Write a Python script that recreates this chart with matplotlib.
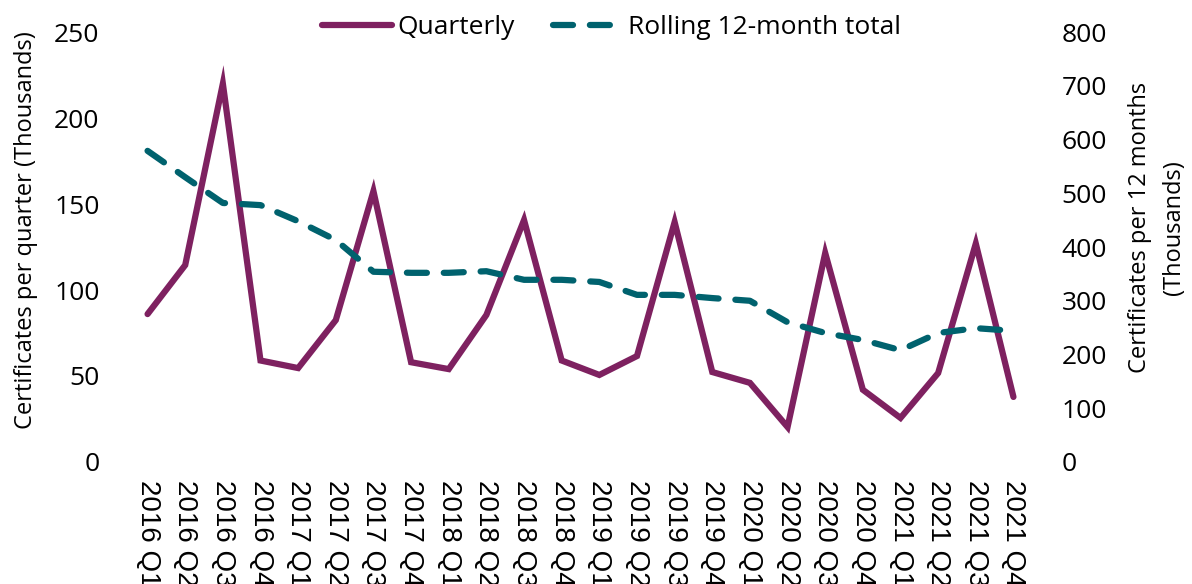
import matplotlib.pyplot as plt
import numpy as np

plt.rcParams['font.family'] = ['Open Sans', 'DejaVu Sans']

quarters = [f'{y} Q{q}' for y in range(2016, 2022) for q in range(1, 5)]
quarterly = [86, 114.5, 220, 59, 54.6, 82.5, 157.5, 58, 54, 85.5, 140.7, 59,
             50.6, 61.6, 139.5, 52.3, 46, 20.3, 121.5, 42, 25.6, 51.7, 127, 37.8]
rolling = [579, 530, 482, 478, 448, 413, 354, 352, 352, 355, 339, 339,
           335, 311, 311, 305, 300, 260, 240, 227, 208, 240, 249, 244]

purple = '#7E2160'
teal = '#00626E'

fig = plt.figure(figsize=(11.92, 5.84), dpi=100)
ax1 = fig.add_axes([0.108, 0.209, 0.758, 0.736])
ax2 = ax1.twinx()

x = np.arange(len(quarters))
l1, = ax1.plot(x, quarterly, color=purple, lw=4.5, solid_capstyle='round',
               solid_joinstyle='miter', label='Quarterly')
l2, = ax2.plot(x, rolling, color=teal, lw=4.5, dashes=(3.2, 2.7),
               dash_capstyle='round', label='Rolling 12-month total')

ax1.set_xlim(-0.5, len(quarters) - 0.5)
ax1.set_ylim(0, 250)
ax2.set_ylim(0, 800)
ax1.set_yticks(range(0, 251, 50))
ax2.set_yticks(range(0, 801, 100))
ax1.set_xticks(x)

for ax in (ax1, ax2):
    for s in ax.spines.values():
        s.set_visible(False)
    ax.tick_params(length=0, labelsize=19)
ax1.tick_params(axis='x', labelsize=20, pad=13)
ax1.tick_params(axis='y', pad=21)
ax2.tick_params(axis='y', pad=21)

ax1.set_xticklabels(quarters, rotation=270, fontsize=20,
                    family=['Liberation Sans', 'DejaVu Sans'])

ax1.set_ylabel('Certificates per quarter (Thousands)', fontsize=17, labelpad=12)
ax1.yaxis.label.set_y(0.54)
ax2.set_ylabel('Certificates per 12 months\n(Thousands)', fontsize=17,
               rotation=90, labelpad=15, linespacing=1.6)
ax2.yaxis.label.set_y(0.545)

fig.legend(handles=[l1, l2], loc='center', bbox_to_anchor=(0.513, 0.953),
           ncol=2, frameon=False, fontsize=19, handlelength=2.65,
           handletextpad=0.2, columnspacing=1.45)

fig.savefig('out.png', dpi=100)
